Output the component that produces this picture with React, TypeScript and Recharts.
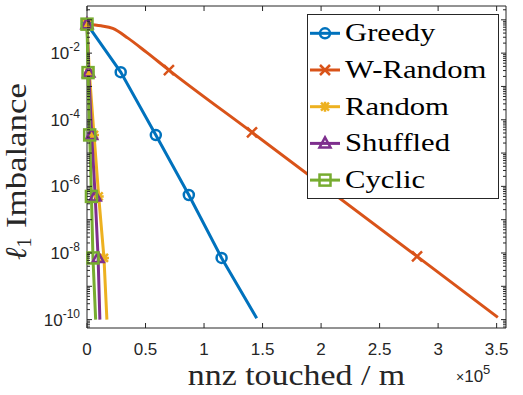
import React from 'react';
import { LineChart, Line, XAxis, YAxis, Legend, Label, ReferenceArea } from 'recharts';

// x: nnz touched / m, y: l1 imbalance
const greedyX = [0, 28800, 58800, 87000, 115000, 145000];
const greedyY = [0.0741, 0.00269, 3.47e-5, 5.5e-7, 7.1e-9, 1.1e-10];

const wRandomX = [0, 12000, 22000, 35000, 51000, 70000, 141000, 282000, 351000];
const wRandomY = [0.0741, 0.066, 0.055, 0.0282, 0.0105, 0.0031, 4.2e-5, 7.9e-9, 1.17e-10];

const randomX = [0, 2000, 6000, 10000, 14500, 17000];
const randomY = [0.0741, 0.0026, 3.5e-5, 5.0e-7, 7.1e-9, 1.0e-10];

const shuffledX = [0, 1500, 4000, 7000, 9500, 11000];
const shuffledY = [0.0741, 0.0026, 3.5e-5, 5.0e-7, 7.1e-9, 1.0e-10];

const cyclicX = [0, 900, 2300, 3800, 5100, 7400];
const cyclicY = [0.0741, 0.0026, 3.5e-5, 5.0e-7, 7.1e-9, 1.0e-10];

// which points carry a marker
const greedyMarks = [0, 1, 2, 3, 4];
const wRandomMarks = [0, 5, 6, 7];
const randomMarks = [0, 1, 2, 3, 4];
const shuffledMarks = [0, 1, 2, 3, 4];
const cyclicMarks = [0, 1, 2, 3, 4];

const X_TICKS = [0, 50000, 100000, 150000, 200000, 250000, 300000, 350000];
const X_TICK_LABELS = ['0', '0.5', '1', '1.5', '2', '2.5', '3', '3.5'];
const Y_LABEL_EXPONENTS = [-10, -8, -6, -4, -2];

const X_MAX = 358000;
const Y_MIN = 5.6e-11;
const Y_MAX = 0.26;

// plot box edges (from chart size and margins)
const L = 87;
const R = 506;
const T = 6;
const B = 328;

const AXIS = '#262626';
const sansStyle = { fontFamily: "'Liberation Sans'" };
const serifStyle = { fontFamily: "'Liberation Serif'" };

const Y_TICKS: number[] = [];
for (let d = -11; d <= -1; d++) {
  for (let k = 1; k <= 9; k++) {
    const v = k * Math.pow(10, d);
    if (v >= Y_MIN && v <= Y_MAX) Y_TICKS.push(v);
  }
}

const toPoints = (xs: number[], ys: number[], marks: number[]) =>
  xs.map((x, i) => ({ x, y: ys[i], mark: marks.includes(i) }));

const SERIES = [
  { name: 'Greedy', color: '#0072BD', shape: 'o', curve: 'linear', data: toPoints(greedyX, greedyY, greedyMarks) },
  { name: 'W-Random', color: '#D95319', shape: 'x', curve: 'monotone', data: toPoints(wRandomX, wRandomY, wRandomMarks) },
  { name: 'Random', color: '#EDB120', shape: '*', curve: 'linear', data: toPoints(randomX, randomY, randomMarks) },
  { name: 'Shuffled', color: '#7E2F8E', shape: '^', curve: 'linear', data: toPoints(shuffledX, shuffledY, shuffledMarks) },
  { name: 'Cyclic', color: '#77AC30', shape: 's', curve: 'linear', data: toPoints(cyclicX, cyclicY, cyclicMarks) },
];

const marker = (shape: string, cx: number, cy: number, color: string) => {
  const sw = 2.5;
  switch (shape) {
    case 'o':
      return <circle cx={cx} cy={cy} r={5} fill="none" stroke={color} strokeWidth={sw} />;
    case 'x':
      return (
        <path d={`M${cx - 5},${cy - 5}L${cx + 5},${cy + 5}M${cx - 5},${cy + 5}L${cx + 5},${cy - 5}`} stroke={color} strokeWidth={sw} />
      );
    case '*':
      return (
        <path
          d={`M${cx - 5},${cy}L${cx + 5},${cy}M${cx},${cy - 5}L${cx},${cy + 5}M${cx - 4},${cy - 4}L${cx + 4},${cy + 4}M${cx - 4},${cy + 4}L${cx + 4},${cy - 4}`}
          stroke={color}
          strokeWidth={sw}
        />
      );
    case '^':
      return <path d={`M${cx},${cy - 6}L${cx + 5.5},${cy + 4}L${cx - 5.5},${cy + 4}Z`} fill="none" stroke={color} strokeWidth={sw} />;
    default:
      return <rect x={cx - 5.5} y={cy - 5.5} width={11} height={11} fill="none" stroke={color} strokeWidth={sw} />;
  }
};

const makeDot = (shape: string, color: string) => (props: any) => {
  const { cx, cy, payload, index } = props;
  if (!payload || !payload.mark) return <g key={`e-${index}`} />;
  return <g key={`m-${index}`}>{marker(shape, cx, cy, color)}</g>;
};

const XTick = (props: any) => {
  const { x, payload } = props;
  const label = X_TICK_LABELS[X_TICKS.indexOf(payload.value)];
  return (
    <g>
      <line x1={x} x2={x} y1={B} y2={B - 5} stroke={AXIS} />
      <line x1={x} x2={x} y1={T} y2={T + 5} stroke={AXIS} />
      <text x={x} y={355} textAnchor="middle" style={sansStyle} fontSize={17} fill={AXIS}>
        {label}
      </text>
    </g>
  );
};

const YTick = (props: any) => {
  const { y, payload } = props;
  const lg = Math.log10(payload.value);
  const exp = Math.round(lg);
  const major = Math.abs(lg - exp) < 1e-6;
  const len = major ? 5 : 3;
  return (
    <g>
      <line x1={L} x2={L + len} y1={y} y2={y} stroke={AXIS} />
      <line x1={R - len} x2={R} y1={y} y2={y} stroke={AXIS} />
      {major && Y_LABEL_EXPONENTS.includes(exp) && (
        <text x={80} y={y + 6} textAnchor="end" style={sansStyle} fontSize={17} fill={AXIS}>
          10<tspan dy={-8} fontSize={12}>{exp}</tspan>
        </text>
      )}
    </g>
  );
};

const XLabel = () => (
  <g fill={AXIS}>
    <text transform="translate(296.5,385) scale(1.13,1)" textAnchor="middle" style={serifStyle} fontSize={30}>
      nnz touched / m
    </text>
    <text x={456} y={382} style={sansStyle} fontSize={17}>
      <tspan fontSize={14}>×</tspan>10<tspan dy={-8} fontSize={13}>5</tspan>
    </text>
  </g>
);

const YLabel = () => (
  <g fill={AXIS}>
    <text transform="translate(26,260) rotate(-90)" style={serifStyle} fontSize={30}>
      <tspan fontStyle="italic">ℓ</tspan>
      <tspan fontSize={20} dy={5}>1</tspan>
    </text>
    <text transform="translate(26,228) rotate(-90) scale(1.16,1)" style={serifStyle} fontSize={30}>
      Imbalance
    </text>
  </g>
);

const LegendBox = () => (
  <svg width={192} height={185} style={{ display: 'block' }}>
    <rect x={0.5} y={0.5} width={191} height={184} fill="#fff" stroke={AXIS} />
    {SERIES.map((s, i) => {
      const cy = 19.3 + i * 36.7;
      return (
        <g key={s.name}>
          <line x1={3} x2={33} y1={cy} y2={cy} stroke={s.color} strokeWidth={3} />
          {marker(s.shape, 18, cy, s.color)}
          <text transform={`translate(38,${cy + 8}) scale(1.18,1)`} style={serifStyle} fontSize={26} fill="#000">
            {s.name}
          </text>
        </g>
      );
    })}
  </svg>
);

export default function App() {
  return (
    <div style={{ position: 'absolute', left: 0, top: 0, background: '#fff' }}>
      <LineChart width={523} height={395} margin={{ top: 6, right: 17, bottom: 0, left: 0 }}>
        <XAxis
          dataKey="x"
          type="number"
          domain={[0, X_MAX]}
          ticks={X_TICKS}
          tick={XTick}
          tickLine={false}
          axisLine={false}
          interval={0}
          height={67}
        >
          <Label content={XLabel} />
        </XAxis>
        <YAxis
          dataKey="y"
          type="number"
          scale="log"
          domain={[Y_MIN, Y_MAX]}
          ticks={Y_TICKS}
          tick={YTick}
          tickLine={false}
          axisLine={false}
          interval={0}
          width={87}
        >
          <Label content={YLabel} />
        </YAxis>
        {SERIES.map((s) => (
          <Line
            key={s.name}
            data={s.data}
            dataKey="y"
            name={s.name}
            type={s.curve as any}
            stroke={s.color}
            strokeWidth={3}
            dot={makeDot(s.shape, s.color)}
            activeDot={false}
            isAnimationActive={false}
          />
        ))}
        <ReferenceArea x1={0} x2={X_MAX} y1={Y_MIN} y2={Y_MAX} fill="none" stroke={AXIS} strokeWidth={1} />
        <Legend
          content={LegendBox}
          layout="horizontal"
          verticalAlign="middle"
          align="center"
          wrapperStyle={{ left: 307, top: 14, width: 192, height: 185 }}
        />
      </LineChart>
    </div>
  );
}
